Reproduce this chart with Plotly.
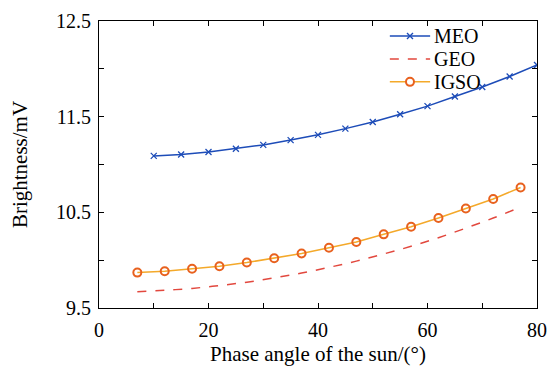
import plotly.graph_objects as go

meo_x = [10, 15, 20, 25, 30, 35, 40, 45, 50, 55, 60, 65, 70, 75, 80]
meo_y = [11.09, 11.105, 11.13, 11.165, 11.205, 11.255, 11.31, 11.375, 11.445, 11.525, 11.61, 11.71, 11.81, 11.92, 12.04]

geo_x = [7, 12, 17, 22, 27, 32, 37, 42, 47, 52, 57, 62, 67, 72, 77]
geo_y = [9.67, 9.685, 9.705, 9.735, 9.77, 9.815, 9.865, 9.925, 9.99, 10.065, 10.145, 10.235, 10.335, 10.44, 10.555]

igso_x = [7, 12, 17, 22, 27, 32, 37, 42, 47, 52, 57, 62, 67, 72, 77]
igso_y = [9.87, 9.885, 9.91, 9.937, 9.975, 10.02, 10.07, 10.13, 10.19, 10.27, 10.35, 10.44, 10.54, 10.64, 10.76]

series_names = ["MEO", "GEO", "IGSO"]

x_ticks = [0, 10, 20, 30, 40, 50, 60, 70, 80]
x_ticktext = ["0", "", "20", "", "40", "", "60", "", "80"]
y_ticks = [9.5, 10.0, 10.5, 11.0, 11.5, 12.0, 12.5]
y_ticktext = ["9.5", "", "10.5", "", "11.5", "", "12.5"]

FONT = "Liberation Serif, Times New Roman, serif"
C_MEO = "#1d4cb8"
C_GEO = "#e2483e"
C_IGSO_LINE = "#f4a92a"
C_IGSO_MK = "#e8611e"

fig = go.Figure()
fig.add_trace(go.Scatter(
    x=meo_x, y=meo_y, name=series_names[0], mode="lines+markers",
    line=dict(color=C_MEO, width=1.5),
    marker=dict(symbol="x-thin", size=6, line=dict(color=C_MEO, width=1.3)),
))
fig.add_trace(go.Scatter(
    x=geo_x, y=geo_y, name=series_names[1], mode="lines",
    line=dict(color=C_GEO, width=1.5, dash="dash", shape="spline"),
))
fig.add_trace(go.Scatter(
    x=igso_x, y=igso_y, name=series_names[2], mode="lines+markers",
    line=dict(color=C_IGSO_LINE, width=1.5),
    marker=dict(symbol="circle-open", size=8, color=C_IGSO_MK, line=dict(color=C_IGSO_MK, width=2)),
))

# Manual compact legend (paper coordinates)
lx0, lx1, ltx = 0.664, 0.756, 0.762
rows = [0.948, 0.868, 0.788]
shapes = []
annotations = []
xm = (lx0 + lx1) / 2
dxp = 3 / 438
dyp = 3 / 287
# MEO
shapes.append(dict(type="line", xref="paper", yref="paper", x0=lx0, x1=lx1, y0=rows[0], y1=rows[0],
                   line=dict(color=C_MEO, width=1.5)))
shapes.append(dict(type="line", xref="paper", yref="paper", x0=xm - dxp, x1=xm + dxp,
                   y0=rows[0] - dyp, y1=rows[0] + dyp, line=dict(color=C_MEO, width=1.3)))
shapes.append(dict(type="line", xref="paper", yref="paper", x0=xm - dxp, x1=xm + dxp,
                   y0=rows[0] + dyp, y1=rows[0] - dyp, line=dict(color=C_MEO, width=1.3)))
# GEO
shapes.append(dict(type="line", xref="paper", yref="paper", x0=lx0, x1=lx1, y0=rows[1], y1=rows[1],
                   line=dict(color=C_GEO, width=1.5, dash="dash")))
# IGSO
shapes.append(dict(type="line", xref="paper", yref="paper", x0=lx0, x1=lx1, y0=rows[2], y1=rows[2],
                   line=dict(color=C_IGSO_LINE, width=1.5)))
rx = 4 / 438
ry = 4 / 287
shapes.append(dict(type="circle", xref="paper", yref="paper", x0=xm - rx, x1=xm + rx,
                   y0=rows[2] - ry, y1=rows[2] + ry, fillcolor="white",
                   line=dict(color=C_IGSO_MK, width=2)))
for name, ry_ in zip(series_names, rows):
    annotations.append(dict(text=name, xref="paper", yref="paper", x=ltx, y=ry_,
                            xanchor="left", yanchor="middle", showarrow=False,
                            borderpad=0,
                            font=dict(family=FONT, size=20, color="black")))

axis_common = dict(
    showline=True, linecolor="black", linewidth=1.2, mirror="ticks",
    ticks="inside", ticklen=5, tickcolor="black", tickwidth=1,
    showgrid=False, zeroline=False, automargin=False,
    tickfont=dict(family=FONT, size=20, color="black"),
)

fig.update_layout(
    width=549, height=368,
    margin=dict(l=99, r=12, t=21, b=60),
    paper_bgcolor="white", plot_bgcolor="white",
    font=dict(family=FONT, size=20, color="black"),
    xaxis=dict(range=[0, 80], tickmode="array", tickvals=x_ticks, ticktext=x_ticktext,
               ticklabelstandoff=4,
               title=dict(text="Phase angle of the sun/(°)", font=dict(family=FONT, size=21), standoff=6),
               **axis_common),
    yaxis=dict(range=[9.5, 12.5], tickmode="array", tickvals=y_ticks, ticktext=y_ticktext,
               ticklabelstandoff=3,
               title=dict(text="Brightness/mV", font=dict(family=FONT, size=21), standoff=22),
               **axis_common),
    showlegend=False,
    shapes=shapes,
    annotations=annotations,
)

fig.write_html("out.html")
